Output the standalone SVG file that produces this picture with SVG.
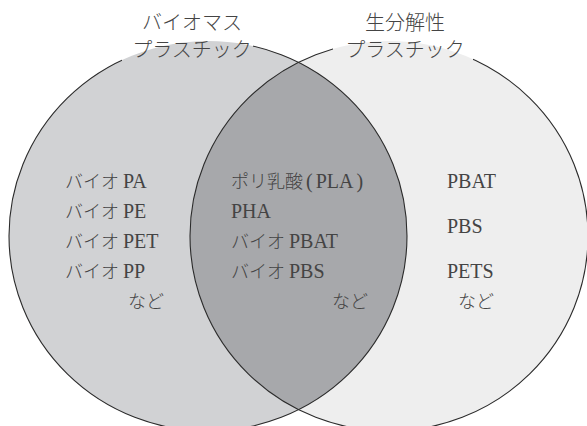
<svg xmlns="http://www.w3.org/2000/svg" width="587" height="426" viewBox="0 0 587 426">
  <style>
    .t { font-family: "Noto Sans CJK JP", sans-serif; font-weight: 300; font-size: 18px; fill: #444; }
    .h { font-family: "Noto Sans CJK JP", sans-serif; font-weight: 300; font-size: 20px; fill: #444; text-anchor: middle; }
    .lat { font-family: "Liberation Serif", serif; font-weight: 400; font-size: 20px; }
    .ring { fill: none; stroke: #2b2b2b; stroke-width: 1.1; }
  </style>
  <defs>
    <clipPath id="leftClip">
      <ellipse cx="208" cy="236" rx="199" ry="195"/>
    </clipPath>
    <mask id="gap" maskUnits="userSpaceOnUse" x="0" y="0" width="587" height="426">
      <rect x="0" y="0" width="587" height="426" fill="#fff"/>
      <rect x="122" y="28" width="131" height="34" fill="#000"/>
      <rect x="333" y="28" width="140" height="34" fill="#000"/>
    </mask>
  </defs>
  <rect width="587" height="426" fill="#fff"/>
  <g id="biomass">
    <ellipse cx="208" cy="236" rx="199" ry="195" fill="#d1d2d4"/>
  </g>
  <g id="biodegradable">
    <ellipse cx="389" cy="236" rx="199" ry="195" fill="#eeeeee"/>
  </g>
  <g id="overlap">
    <ellipse cx="389" cy="236" rx="199" ry="195" fill="#a7a8ab" clip-path="url(#leftClip)"/>
  </g>
  <g id="outlines" mask="url(#gap)">
    <ellipse class="ring" cx="208" cy="236" rx="199" ry="195"/>
    <ellipse class="ring" cx="389" cy="236" rx="199" ry="195"/>
  </g>
  <g id="label-biomass">
    <text class="h" x="192" y="30">バイオマス</text>
    <text class="h" x="192" y="57">プラスチック</text>
  </g>
  <g id="label-biodegradable">
    <text class="h" x="405" y="30">生分解性</text>
    <text class="h" x="405" y="57">プラスチック</text>
  </g>
  <g id="left-items">
    <text class="t" x="65" y="188">バイオ <tspan class="lat">PA</tspan></text>
    <text class="t" x="65" y="218">バイオ <tspan class="lat">PE</tspan></text>
    <text class="t" x="65" y="248">バイオ <tspan class="lat">PET</tspan></text>
    <text class="t" x="65" y="278">バイオ <tspan class="lat">PP</tspan></text>
    <text class="t" x="128" y="308">など</text>
  </g>
  <g id="middle-items">
    <text class="t" x="231" y="188">ポリ乳酸<tspan class="lat" dx="3">(</tspan><tspan class="lat" dx="3">PLA</tspan><tspan class="lat" dx="3">)</tspan></text>
    <text class="t" x="231" y="218"><tspan class="lat">PHA</tspan></text>
    <text class="t" x="231" y="248">バイオ <tspan class="lat">PBAT</tspan></text>
    <text class="t" x="231" y="278">バイオ <tspan class="lat">PBS</tspan></text>
    <text class="t" x="332" y="308">など</text>
  </g>
  <g id="right-items">
    <text class="t" x="447" y="188"><tspan class="lat">PBAT</tspan></text>
    <text class="t" x="447" y="233"><tspan class="lat">PBS</tspan></text>
    <text class="t" x="447" y="278"><tspan class="lat">PETS</tspan></text>
    <text class="t" x="458" y="308">など</text>
  </g>
</svg>
